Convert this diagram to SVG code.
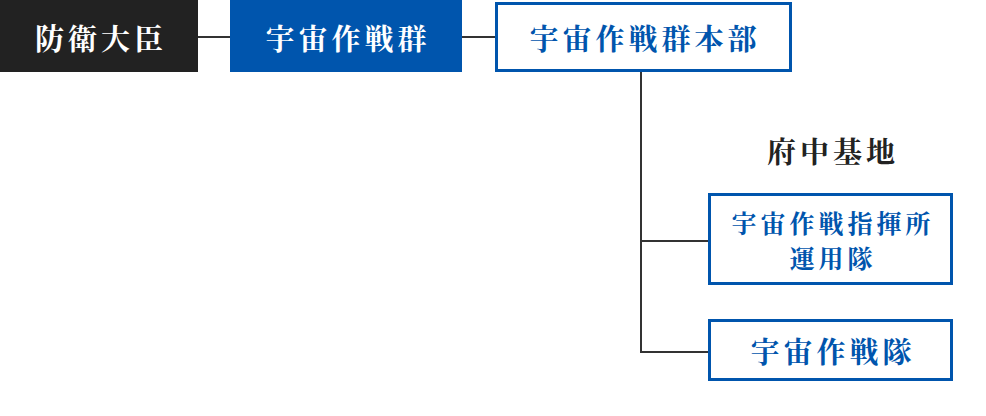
<svg xmlns="http://www.w3.org/2000/svg" width="986" height="416" viewBox="0 0 986 416">
<style>
text{font-family:"Noto Serif CJK JP","Noto Sans CJK JP",serif;font-weight:bold;text-anchor:middle;dominant-baseline:central}
.w{fill:#ffffff;font-size:29px;letter-spacing:4px}
.b{fill:#0055AD;font-size:29px;letter-spacing:4px}
.s{fill:#0055AD;font-size:25px;letter-spacing:4px}
.k{fill:#222222;font-size:29px;letter-spacing:4px}
.box{fill:#ffffff;stroke:#0055AD;stroke-width:3}
.ln{stroke:#333333;stroke-width:2;fill:none}
</style>
<rect width="986" height="416" fill="#ffffff"/>
<g id="connectors">
<line class="ln" x1="198" y1="37" x2="230" y2="37"/>
<line class="ln" x1="462" y1="37" x2="495" y2="37"/>
<polyline class="ln" points="641,72 641,352 708,352"/>
<line class="ln" x1="641" y1="241" x2="708" y2="241"/>
</g>
<g id="minister">
<rect x="0" y="0" width="198" height="72" fill="#222222"/>
<text class="w" x="101" y="37">防衛大臣</text>
</g>
<g id="space-operations-group">
<rect x="230" y="0" width="232" height="72" fill="#0055AD"/>
<text class="w" x="348" y="37">宇宙作戦群</text>
</g>
<g id="group-hq">
<rect class="box" x="496.5" y="3.5" width="294" height="67"/>
<text class="b" x="645" y="37">宇宙作戦群本部</text>
</g>
<g id="fuchu-label">
<text class="k" x="833" y="150">府中基地</text>
</g>
<g id="command-post-unit">
<rect class="box" x="709.5" y="194.5" width="242" height="89"/>
<text class="s" x="833" y="222">宇宙作戦指揮所</text>
<text class="s" x="833" y="257">運用隊</text>
</g>
<g id="space-operations-squadron">
<rect class="box" x="709.5" y="320.5" width="242" height="59"/>
<text class="b" x="833" y="350">宇宙作戦隊</text>
</g>
</svg>
